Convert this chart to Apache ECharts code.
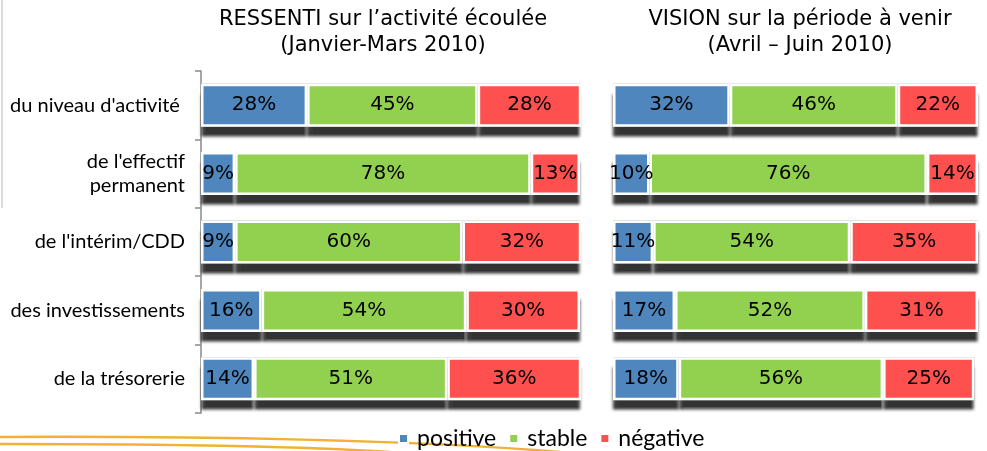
<!DOCTYPE html>
<html>
<head>
<meta charset="utf-8">
<script src="https://cdn.jsdelivr.net/npm/echarts@6/dist/echarts.min.js"></script>
<style>
  html, body { margin: 0; padding: 0; background: #fff; }
  #main { width: 987px; height: 451px; }
</style>
</head>
<body>
<div id="main"></div>
<script>
// catégories (de haut en bas)
const categories = ['du niveau d\'activité ', 'de l\'effectif\npermanent', 'de l\'intérim/CDD', 'des investissements', 'de la trésorerie']
const seriesNames = ['positive', 'stable', 'négative']

// RESSENTI (Janvier-Mars 2010)
const ressentiPositive = [28, 9, 9, 16, 14]
const ressentiStable = [45, 78, 60, 54, 51]
const ressentiNegative = [28, 13, 32, 30, 36]

// VISION (Avril - Juin 2010)
const visionPositive = [32, 10, 11, 17, 18]
const visionStable = [46, 76, 54, 52, 56]
const visionNegative = [22, 14, 35, 31, 25]

const colors = ['#4F86BD', '#92D050', '#FF5050']

const chart = echarts.init(document.getElementById('main'))

// barre visible (bord blanc, sans ombre)
function makeSeries (name, data, idx, stack) {
  return {
    name: name,
    type: 'bar',
    stack: stack,
    xAxisIndex: idx,
    yAxisIndex: idx,
    barWidth: 43,
    barGap: '-100%',
    z: 3,
    data: data,
    itemStyle: {
      color: colors[seriesNames.indexOf(name)],
      borderColor: '#fff',
      borderWidth: 2.5
    },
    label: {
      show: true,
      position: 'inside',
      formatter: '{c}%',
      color: '#000',
      fontSize: 20,
      fontFamily: 'DejaVu Sans'
    }
  }
}

// ombre portée sous chaque barre (mêmes données, cachée derrière)
function makeShadow (data, idx, stack) {
  return {
    name: 'ombre',
    type: 'bar',
    stack: stack,
    xAxisIndex: idx,
    yAxisIndex: idx,
    barWidth: 43,
    barGap: '-100%',
    z: 1,
    silent: true,
    data: data,
    itemStyle: {
      color: '#8c8c8c',
      shadowColor: 'rgba(0,0,0,0.8)',
      shadowBlur: 3,
      shadowOffsetY: 10
    },
    label: { show: false }
  }
}

const titleStyle = { fontFamily: 'DejaVu Sans', fontSize: 21, fontWeight: 'normal', color: '#000', lineHeight: 26 }

const option = {
  animation: false,
  color: colors,
  title: [
    { text: 'RESSENTI sur l’activité écoulée\n(Janvier-Mars 2010)', left: 378, top: 2, textAlign: 'center', textStyle: titleStyle },
    { text: 'VISION sur la période à venir\n(Avril – Juin 2010)', left: 795, top: 2, textAlign: 'center', textStyle: titleStyle }
  ],
  legend: {
    data: seriesNames,
    left: 393,
    top: 422,
    icon: 'rect',
    itemWidth: 9,
    itemHeight: 9,
    itemGap: 12,
    textStyle: { fontFamily: 'Lato', fontSize: 23, color: '#000', padding: [0, 0, 0, 4] }
  },
  grid: [
    { left: 201, right: 407, top: 71, bottom: 38 },
    { left: 613, right: 9, top: 71, bottom: 38 }
  ],
  xAxis: [
    { gridIndex: 0, type: 'value', min: 0, max: 100, show: false },
    { gridIndex: 1, type: 'value', min: 0, max: 100, show: false }
  ],
  yAxis: [
    {
      gridIndex: 0,
      type: 'category',
      inverse: true,
      data: categories,
      axisLine: { show: true, lineStyle: { color: '#8a8a8a', width: 1.5 } },
      axisTick: { show: true, length: 6, lineStyle: { color: '#8a8a8a', width: 1.5 } },
      axisLabel: { fontFamily: 'Lato', fontSize: 20, color: '#000', margin: 16, lineHeight: 24 }
    },
    {
      gridIndex: 1,
      type: 'category',
      inverse: true,
      data: categories,
      axisLine: { show: false },
      axisTick: { show: false },
      axisLabel: { show: false }
    }
  ],
  graphic: [
    { type: 'line', shape: { x1: 2, y1: 0, x2: 2, y2: 208 }, style: { stroke: '#dcdcdc', lineWidth: 2 } },
    { type: 'bezierCurve', shape: { x1: 0, y1: 437, cpx1: 200, cpy1: 436, cpx2: 420, cpy2: 440, x2: 560, y2: 452 }, style: { stroke: '#F2B134', lineWidth: 2.5, fill: null } },
    { type: 'bezierCurve', shape: { x1: 0, y1: 444, cpx1: 150, cpy1: 444, cpx2: 300, cpy2: 446, x2: 390, y2: 452 }, style: { stroke: '#F2B134', lineWidth: 2.5, fill: null } }
  ],
  series: [
    makeShadow(ressentiPositive, 0, 'rs'),
    makeShadow(ressentiStable, 0, 'rs'),
    makeShadow(ressentiNegative, 0, 'rs'),
    makeShadow(visionPositive, 1, 'vs'),
    makeShadow(visionStable, 1, 'vs'),
    makeShadow(visionNegative, 1, 'vs'),
    makeSeries('positive', ressentiPositive, 0, 'r'),
    makeSeries('stable', ressentiStable, 0, 'r'),
    makeSeries('négative', ressentiNegative, 0, 'r'),
    makeSeries('positive', visionPositive, 1, 'v'),
    makeSeries('stable', visionStable, 1, 'v'),
    makeSeries('négative', visionNegative, 1, 'v')
  ]
}

chart.setOption(option)
</script>
</body>
</html>
